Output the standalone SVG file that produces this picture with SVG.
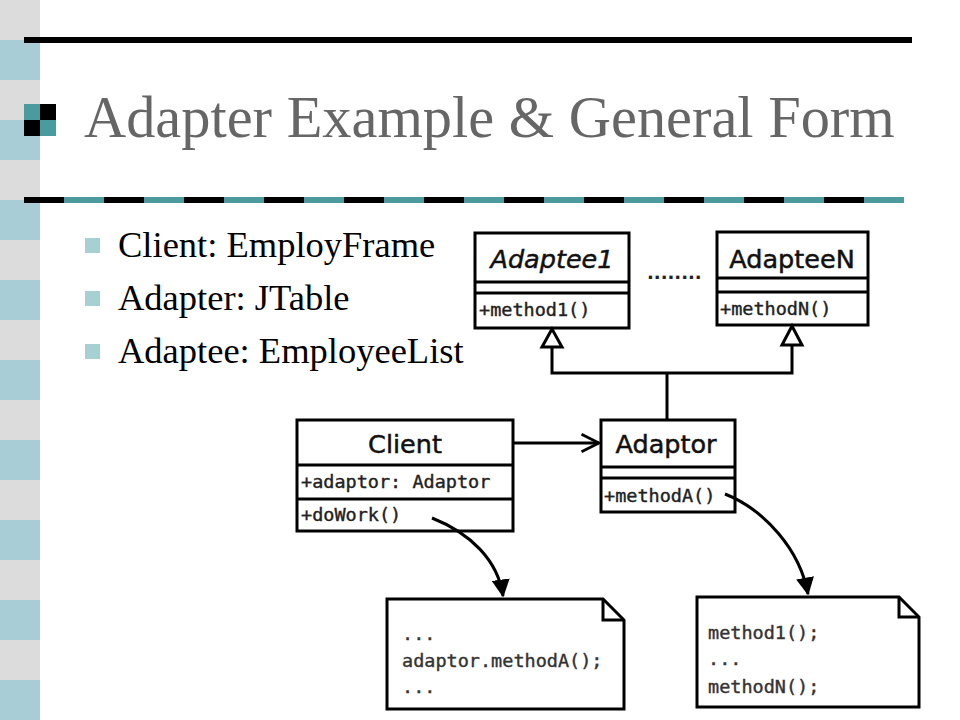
<svg xmlns="http://www.w3.org/2000/svg" width="960" height="720" viewBox="0 0 960 720">
<style>
.box{fill:#fff;stroke:#000;stroke-width:3}
.ln{stroke:#000;stroke-width:3;fill:none}
.cn{font-family:"DejaVu Sans",sans-serif;font-size:25.5px;fill:#111;stroke:#111;stroke-width:0.5;text-anchor:middle}
.mono{font-family:"DejaVu Sans Mono",monospace;font-size:18.5px;fill:#222;stroke:#222;stroke-width:0.4}
.note{font-family:"DejaVu Sans Mono",monospace;font-size:18.5px;fill:#333;stroke:#333;stroke-width:0.4}
.bul{font-family:"Liberation Serif","Times New Roman",serif;font-size:36.5px;fill:#000}
</style>
<defs>
<marker id="filled" viewBox="0 0 12 12" refX="11" refY="6" markerWidth="6" markerHeight="6" orient="auto" markerUnits="strokeWidth">
<path d="M0,0 L12,6 L0,12 Z" fill="#000"/>
</marker>
<marker id="open" viewBox="0 0 12 12" refX="11" refY="6" markerWidth="7" markerHeight="7" orient="auto" markerUnits="strokeWidth">
<path d="M1,1 L11,6 L1,11" fill="none" stroke="#000" stroke-width="1.6"/>
</marker>
</defs>
<rect width="960" height="720" fill="#fff"/>
<g id="strip">
<rect x="0" y="0" width="40" height="720" fill="#dcdcdc"/>
<rect x="0" y="40" width="40" height="40" fill="#a9cdd6"/>
<rect x="0" y="120" width="40" height="40" fill="#a9cdd6"/>
<rect x="0" y="200" width="40" height="40" fill="#a9cdd6"/>
<rect x="0" y="280" width="40" height="40" fill="#a9cdd6"/>
<rect x="0" y="360" width="40" height="40" fill="#a9cdd6"/>
<rect x="0" y="440" width="40" height="40" fill="#a9cdd6"/>
<rect x="0" y="520" width="40" height="40" fill="#a9cdd6"/>
<rect x="0" y="600" width="40" height="40" fill="#a9cdd6"/>
<rect x="0" y="680" width="40" height="40" fill="#a9cdd6"/>
</g>
<g id="header">
<rect x="24" y="37" width="888" height="6" fill="#000"/>
<rect x="24" y="104" width="16" height="16" fill="#4a9a9e"/>
<rect x="40" y="104" width="16" height="16" fill="#000"/>
<rect x="24" y="120" width="16" height="16" fill="#000"/>
<rect x="40" y="120" width="16" height="16" fill="#4a9a9e"/>
<text x="84" y="137" font-family="Liberation Serif,'Times New Roman',serif" font-size="58.4" fill="#666">Adapter Example &amp; General Form</text>
<rect x="24" y="197" width="880" height="6" fill="#000"/>
<line x1="64" y1="200" x2="904" y2="200" stroke="#4a9a9e" stroke-width="6" stroke-dasharray="40 40"/>
</g>
<g id="bullets">
<rect x="85" y="238" width="15" height="15" fill="#a7d0d2"/>
<text class="bul" x="118" y="257">Client: EmployFrame</text>
<rect x="85" y="291" width="15" height="15" fill="#a7d0d2"/>
<text class="bul" x="118" y="310">Adapter: JTable</text>
<rect x="85" y="344" width="15" height="15" fill="#a7d0d2"/>
<text class="bul" x="118" y="363">Adaptee: EmployeeList</text>
</g>
<g id="adaptee1">
<rect class="box" x="475" y="233" width="154" height="95"/>
<line class="ln" x1="475" y1="282" x2="629" y2="282"/>
<line class="ln" x1="475" y1="293" x2="629" y2="293"/>
<text class="cn" x="552" y="268" font-style="italic">Adaptee1</text>
<text class="mono" x="479" y="316">+method1()</text>
</g>
<g id="dots">
<text x="647" y="279" font-family="DejaVu Sans,sans-serif" font-size="18" font-weight="bold" fill="#222">........</text>
</g>
<g id="adapteeN">
<rect class="box" x="717" y="232" width="151" height="93"/>
<line class="ln" x1="717" y1="278" x2="868" y2="278"/>
<line class="ln" x1="717" y1="292" x2="868" y2="292"/>
<text class="cn" x="792" y="268">AdapteeN</text>
<text class="mono" x="720" y="315">+methodN()</text>
</g>
<g id="client">
<rect class="box" x="297" y="420" width="216" height="111"/>
<line class="ln" x1="297" y1="465" x2="513" y2="465"/>
<line class="ln" x1="297" y1="499" x2="513" y2="499"/>
<text class="cn" x="405" y="453">Client</text>
<text class="mono" x="301" y="488">+adaptor: Adaptor</text>
<text class="mono" x="301" y="521">+doWork()</text>
</g>
<g id="adaptor">
<rect class="box" x="601" y="420" width="134" height="92"/>
<line class="ln" x1="601" y1="467" x2="735" y2="467"/>
<line class="ln" x1="601" y1="478" x2="735" y2="478"/>
<text class="cn" x="666" y="453">Adaptor</text>
<text class="mono" x="604" y="502">+methodA()</text>
</g>
<g id="note1">
<path class="box" d="M387,599 H603 L624,620 V709 H387 Z"/>
<path class="ln" d="M603,599 V620 H624" stroke-width="2"/>
<text class="note" x="402" y="640">...</text>
<text class="note" x="402" y="667">adaptor.methodA();</text>
<text class="note" x="402" y="693">...</text>
</g>
<g id="note2">
<path class="box" d="M697,597 H899 L919,617 V707 H697 Z"/>
<path class="ln" d="M899,597 V617 H919" stroke-width="2"/>
<text class="note" x="708" y="639">method1();</text>
<text class="note" x="708" y="665">...</text>
<text class="note" x="708" y="693">methodN();</text>
</g>
<g id="connectors">
<path class="ln" d="M552,347 V373 H792 V345"/>
<path class="ln" d="M667,373 V420"/>
<path class="box" d="M552,329 L542,347 L562,347 Z"/>
<path class="box" d="M792,326 L782,345 L802,345 Z"/>
<path class="ln" d="M513,443 H599" marker-end="url(#open)"/>
<path class="ln" d="M432,518 C470,533 498,560 503,596" marker-end="url(#filled)"/>
<path class="ln" d="M725,494 C765,510 800,550 808,594" marker-end="url(#filled)"/>
</g>
</svg>
